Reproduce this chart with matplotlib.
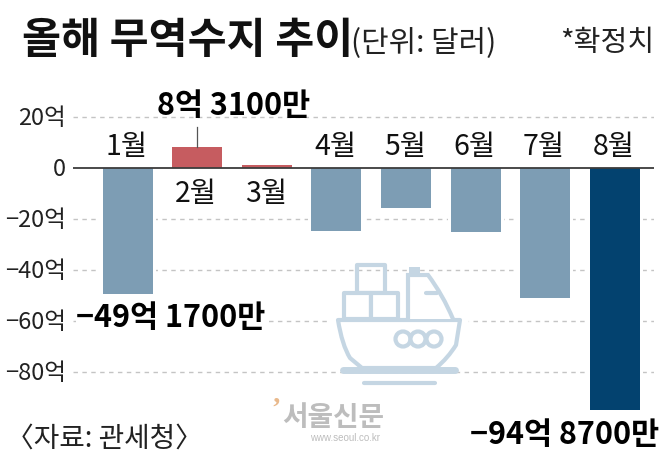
import matplotlib
matplotlib.use("Agg")
import matplotlib.pyplot as plt
from matplotlib.patches import Circle, Rectangle, PathPatch
from matplotlib.path import Path

months = ["1월", "2월", "3월", "4월", "5월", "6월", "7월", "8월"]
balance = [-49.17, 8.31, 1.3, -24.6, -15.7, -25.0, -50.7, -94.87]
y_ticks = [20, 0, -20, -40, -60, -80]
y_tick_labels = ["20억", "0", "−20억", "−40억", "−60억", "−80억"]

KR = ["Noto Sans CJK KR", "DejaVu Sans"]
BLUE = "#7d9db4"
DARK = "#03426f"
RED = "#c65c60"
ICON = "#c5d6e3"
GRID = "#c4c4c4"

W, H = 660, 475
fig = plt.figure(figsize=(W / 100, H / 100), dpi=100, facecolor="white")

L, R, T, B = 73, 654, 100, 430
ax = fig.add_axes([L / W, 1 - B / H, (R - L) / W, (B - T) / H])
px_per_cat = 69.6
x0 = 127.5
ppu = 2.555
y0 = 168
ax.set_xlim((L - x0) / px_per_cat, (R - x0) / px_per_cat)
ax.set_ylim((y0 - B) / ppu, (y0 - T) / ppu)
ax.axis("off")

for t in y_ticks:
    if t != 0:
        ax.axhline(t, color=GRID, lw=1.0, ls=(0, (3.2, 3.2)), zorder=1)
colors = [BLUE, RED, RED, BLUE, BLUE, BLUE, BLUE, DARK]
ax.bar(range(len(months)), balance, width=56 / px_per_cat, color="white", zorder=1.5)
ax.bar(range(len(months)), balance, width=50 / px_per_cat, color=colors, zorder=2)
ax.axhline(0, color="#3c3c3c", lw=1.3, zorder=3)
ax.plot([1, 1], [balance[1], 16], color="#555555", lw=0.9, zorder=3)

ov = fig.add_axes([0, 0, 1, 1])
ov.set_xlim(0, W)
ov.set_ylim(H, 0)
ov.axis("off")
ov.patch.set_alpha(0)

for t, lab in zip(y_ticks, y_tick_labels):
    ov.text(66, y0 - t * ppu + 1.5, lab, ha="right", va="center", fontsize=17, family=KR, color="#222222")

month_y = [147, 194, 194, 147, 147, 147, 147, 147]
for i, (m, my) in enumerate(zip(months, month_y)):
    ov.text(x0 + i * px_per_cat - 1, my, m, ha="center", va="center", fontsize=20.5, family=KR, color="#111111")

ov.text(22, 41, "올해 무역수지 추이", ha="left", va="center", fontsize=30.5, family=KR, weight="bold", color="#111111")
ov.text(351, 43, "(단위: 달러)", ha="left", va="center", fontsize=21.5, family=KR, color="#222222")
ov.text(654, 43, "*확정치", ha="right", va="center", fontsize=21, family=KR, color="#222222")
label_bg = dict(fc="white", ec="none", pad=0.5)
ov.text(234, 106, "8억 3100만", ha="center", va="center", fontsize=22, family=KR, weight="bold", color="#000000")
ov.text(171, 318, "−49억 1700만", ha="center", va="center", fontsize=22, family=KR, weight="bold", color="#000000", bbox=label_bg)
ov.text(565, 435, "−94억 8700만", ha="center", va="center", fontsize=22, family=KR, weight="bold", color="#000000")
ov.text(6, 439, "〈자료: 관세청〉", ha="left", va="center", fontsize=20, family=KR, color="#222222")

ov.text(333, 418, "서울신문", ha="center", va="center", fontsize=20, family=KR, weight="bold", color="#bdbdbd")
ov.text(345, 438, "www.seoul.co.kr", ha="center", va="center", fontsize=7, family="Liberation Sans", color="#bdbdbd")
ov.text(276, 409, "’", ha="center", va="center", fontsize=20, family="Liberation Serif", weight="bold", color="#e9b98c")

lw = 3.0
def box(x1, y1, x2, y2, fill="white"):
    ov.add_patch(Rectangle((x1, y1), x2 - x1, y2 - y1, fc=fill, ec=ICON, lw=lw, joinstyle="round", zorder=5))
box(357, 265, 385, 293, "none")
box(344, 293, 371, 319)
box(371, 293, 398, 319)
ov.plot([332, 466], [321, 321], color="white", lw=4, zorder=4.5)
hull = Path([(338, 320), (342, 345), (350, 358), (362, 368), (436, 368), (448, 358), (456, 345), (460, 320), (338, 320)],
            [Path.MOVETO, Path.CURVE3, Path.CURVE3, Path.LINETO, Path.LINETO, Path.CURVE3, Path.CURVE3, Path.LINETO, Path.CLOSEPOLY])
ov.add_patch(PathPatch(hull, fc="white", ec=ICON, lw=lw, zorder=5, joinstyle="round"))
cabin = Path([(408, 319), (408, 275), (428, 275), (443, 295), (453, 319)],
             [Path.MOVETO, Path.LINETO, Path.LINETO, Path.CURVE3, Path.CURVE3])
ov.add_patch(PathPatch(cabin, fc="white", ec=ICON, lw=lw, zorder=5))
ov.add_patch(Rectangle((409, 267), 11, 9, fc=ICON, ec="none", zorder=6))
ov.plot([426, 437], [293, 293], color=ICON, lw=lw, zorder=6, solid_capstyle="round")
ov.plot([343, 455], [370, 370], color=ICON, lw=5, zorder=6, solid_capstyle="round")
ov.plot([364, 435], [383, 383], color=ICON, lw=3, zorder=6, solid_capstyle="round")
for cx in (403, 418, 434):
    ov.add_patch(Circle((cx, 339), 7.5, fc="white", ec=ICON, lw=lw, zorder=6))

fig.savefig("out.png", dpi=100)
